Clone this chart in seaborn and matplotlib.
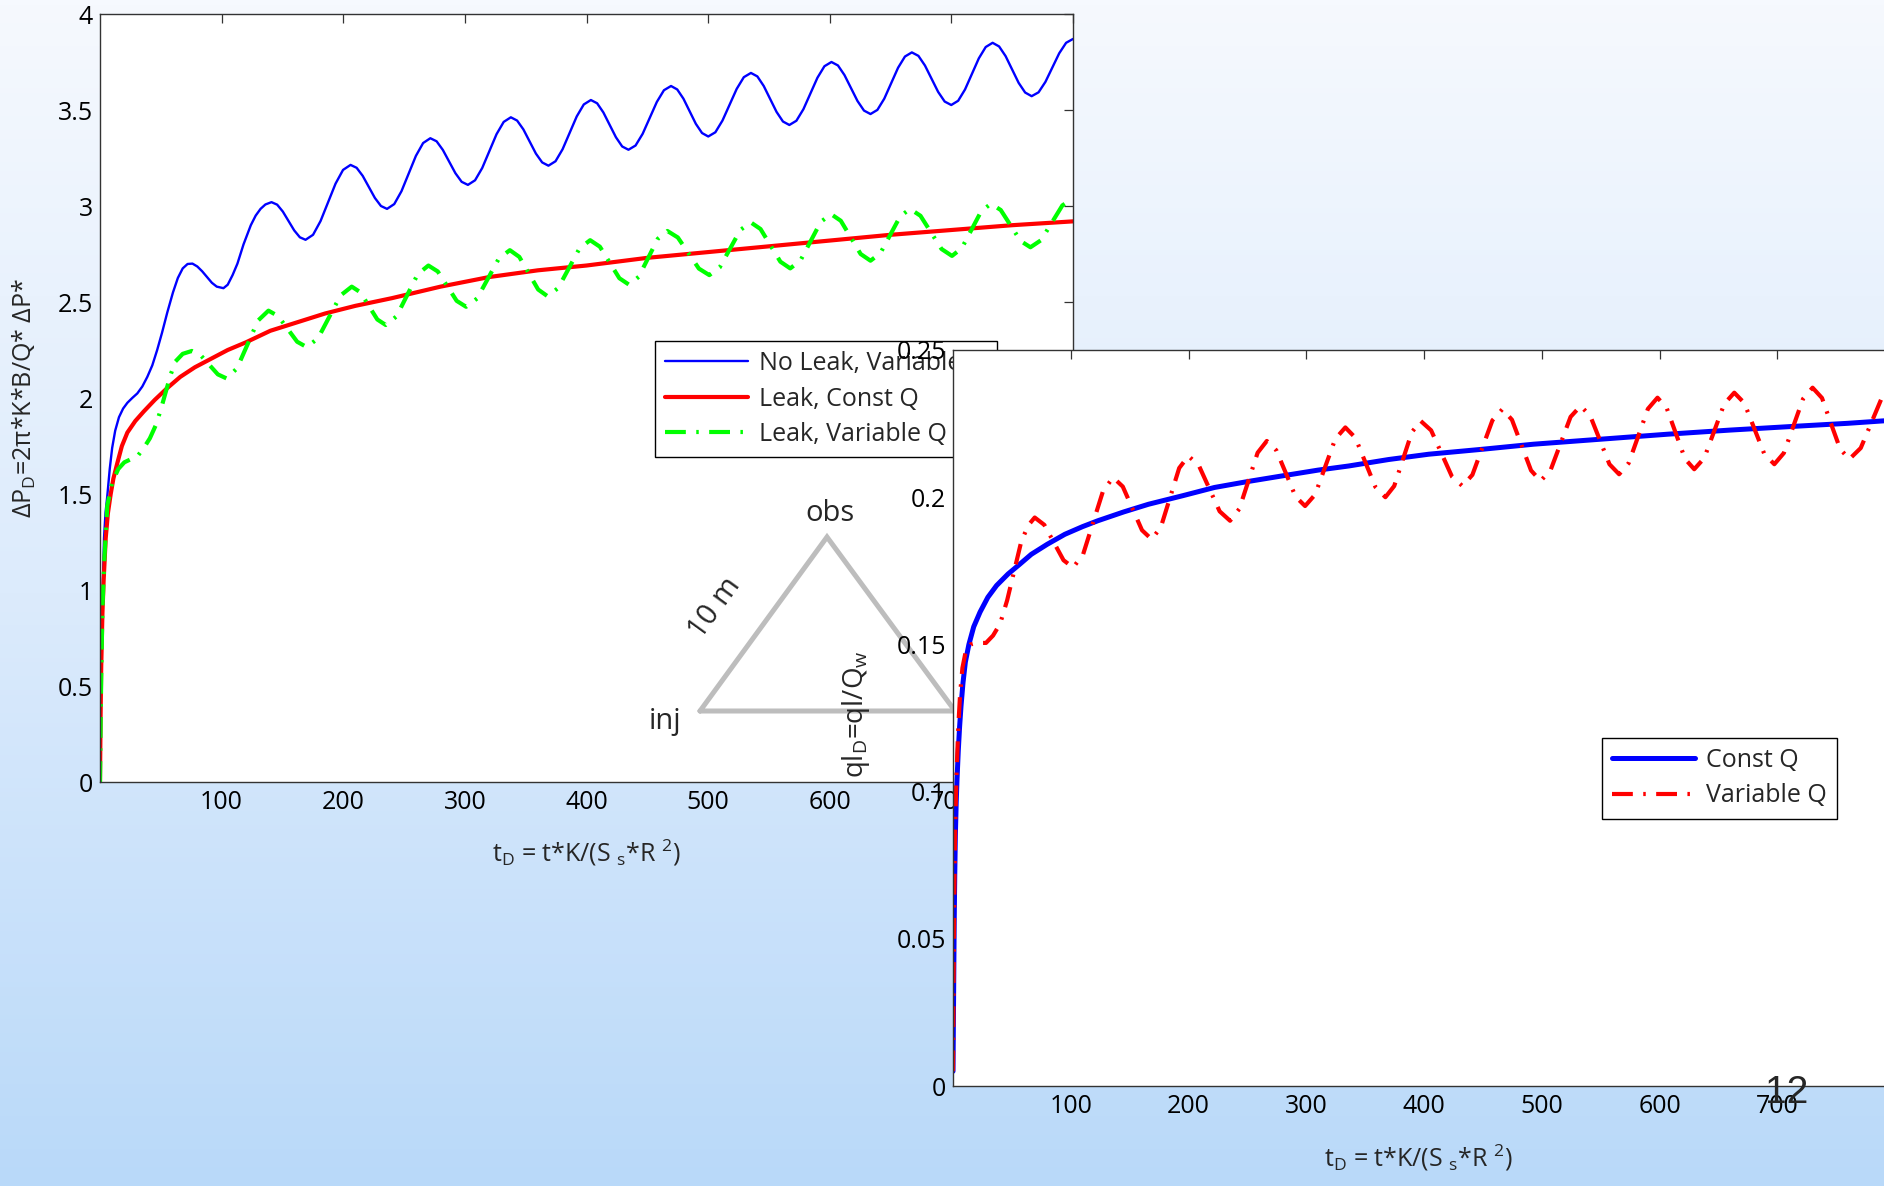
import numpy as np
import pandas as pd
import matplotlib
matplotlib.use("Agg")
import matplotlib.pyplot as plt
import seaborn as sns
from matplotlib.lines import Line2D
from matplotlib.colors import LinearSegmentedColormap

# ---------------- data ----------------
# Left panel: dimensionless pressure vs dimensionless time
no_leak_variable_q = [
    (0, 0), (0.5, 0.35), (1, 0.55), (2, 0.95), (3.3, 1.27), (4.5, 1.40), (6, 1.49), (8, 1.63),
    (10, 1.74), (12.5, 1.83), (15.6, 1.90), (19, 1.945), (22.5, 1.975), (26.5, 2.0), (30.7, 2.024),
    (34.8, 2.06), (38.9, 2.11), (43, 2.17), (47, 2.25), (51, 2.34), (55.3, 2.445), (60, 2.55),
    (64, 2.625), (68, 2.675), (72, 2.698), (76, 2.70), (80, 2.685), (84, 2.66), (88, 2.63), (92, 2.60),
    (96, 2.58), (101.5, 2.572), (105, 2.59), (109, 2.64), (113, 2.70), (118, 2.80), (124, 2.90),
    (128, 2.95), (132, 2.985), (136, 3.008), (141, 3.020),
    (145.67, 3.007), (150.33, 2.971), (155, 2.922), (159.67, 2.873), (164.33, 2.837), (169, 2.824),
    (175.17, 2.850), (181.33, 2.9215), (187.5, 3.019), (193.67, 3.1165), (199.83, 3.188), (206, 3.214),
    (211, 3.199), (216, 3.157), (221, 3.0995), (226, 3.042), (231, 3.000), (236, 2.985),
    (241.93, 3.010), (247.87, 3.077), (253.8, 3.169), (259.73, 3.261), (265.67, 3.328), (271.6, 3.353),
    (276.75, 3.337), (281.9, 3.292), (287.05, 3.2315), (292.2, 3.171), (297.35, 3.126), (302.5, 3.110),
    (308.38, 3.134), (314.27, 3.198), (320.15, 3.286), (326.03, 3.374), (331.92, 3.438), (337.8, 3.462),
    (342.95, 3.445), (348.1, 3.399), (353.25, 3.336), (358.4, 3.273), (363.55, 3.227), (368.7, 3.210),
    (374.52, 3.233), (380.33, 3.2955), (386.15, 3.381), (391.97, 3.4665), (397.78, 3.529), (403.6, 3.552),
    (408.75, 3.535), (413.9, 3.487), (419.05, 3.4225), (424.2, 3.358), (429.35, 3.310), (434.5, 3.293),
    (440.33, 3.315), (446.17, 3.376), (452, 3.459), (457.83, 3.542), (463.67, 3.603), (469.5, 3.625),
    (474.6, 3.607), (479.7, 3.559), (484.8, 3.4935), (489.9, 3.428), (495.0, 3.380), (500.1, 3.362),
    (505.95, 3.384), (511.8, 3.445), (517.65, 3.5275), (523.5, 3.610), (529.35, 3.671), (535.2, 3.693),
    (540.47, 3.675), (545.73, 3.625), (551, 3.5575), (556.27, 3.490), (561.53, 3.440), (566.8, 3.422),
    (572.57, 3.444), (578.33, 3.504), (584.1, 3.586), (589.87, 3.668), (595.63, 3.728), (601.4, 3.750),
    (606.75, 3.732), (612.1, 3.682), (617.45, 3.6145), (622.8, 3.547), (628.15, 3.497), (633.5, 3.479),
    (639.17, 3.5005), (644.83, 3.559), (650.5, 3.6395), (656.17, 3.720), (661.83, 3.7785), (667.5, 3.800),
    (672.9, 3.782), (678.3, 3.7315), (683.7, 3.663), (689.1, 3.5945), (694.5, 3.544), (699.9, 3.526),
    (705.57, 3.548), (711.23, 3.607), (716.9, 3.688), (722.57, 3.769), (728.23, 3.828), (733.9, 3.850),
    (739.25, 3.831), (744.6, 3.7805), (749.95, 3.711), (755.3, 3.6415), (760.65, 3.591), (766, 3.572),
    (771.67, 3.592), (777.33, 3.6465), (783, 3.721), (788.67, 3.7955), (794.33, 3.850), (800, 3.870),
]
leak_const_q = [
    (0, 0), (0.5, 0.35), (1, 0.6), (2, 0.88), (3, 1.05), (4.7, 1.27), (6.5, 1.40), (8.8, 1.50),
    (11, 1.58), (14.2, 1.66), (18, 1.75), (22.5, 1.82), (29, 1.88), (36, 1.93), (45, 1.99), (55, 2.05),
    (66, 2.11), (78, 2.16), (90, 2.20), (105, 2.25), (120, 2.29), (140, 2.35), (160, 2.39), (185, 2.44),
    (210, 2.48), (240, 2.52), (280, 2.58), (320, 2.63), (360, 2.665), (400, 2.69), (450, 2.73),
    (500, 2.76), (550, 2.79), (600, 2.82), (650, 2.85), (700, 2.875), (750, 2.90), (800, 2.92),
]
leak_variable_q = [
    (0, 0), (0.5, 0.3), (1, 0.55), (2, 0.9), (3.5, 1.15), (6, 1.44), (10, 1.56), (15, 1.63), (20, 1.665),
    (25, 1.68), (30, 1.69), (36, 1.74), (41, 1.79), (46, 1.86), (50, 1.94), (54, 2.03), (58, 2.12),
    (62, 2.19), (68, 2.23), (75.5, 2.245), (82.6, 2.224), (89.75, 2.1735), (96.9, 2.123), (104, 2.102),
    (112.6, 2.154), (121.25, 2.2785), (129.9, 2.403), (138.5, 2.455), (146.4, 2.427), (154.25, 2.36),
    (162.1, 2.293), (170, 2.265), (179.25, 2.311), (188.5, 2.4225), (197.75, 2.534), (207, 2.58),
    (214, 2.551), (221, 2.48), (228, 2.409), (235, 2.38), (243.75, 2.425), (252.5, 2.535),
    (261.25, 2.645), (270, 2.69), (277.75, 2.659), (285.5, 2.5825), (293.25, 2.506), (301, 2.475),
    (310, 2.518), (319, 2.6225), (328, 2.727), (337, 2.77), (344.75, 2.735), (352.5, 2.65),
    (360.25, 2.565), (368, 2.53), (376.75, 2.573), (385.5, 2.676), (394.25, 2.779), (403, 2.822),
    (411, 2.788), (419, 2.706), (427, 2.624), (435, 2.59), (442.9, 2.631), (450.75, 2.73),
    (458.6, 2.829), (466.5, 2.87), (475.1, 2.836), (483.75, 2.755), (492.4, 2.674), (501, 2.64),
    (509.5, 2.680), (518, 2.7775), (526.5, 2.875), (535, 2.915), (543.1, 2.880), (551.25, 2.795),
    (559.4, 2.710), (567.5, 2.675), (575.9, 2.716), (584.25, 2.8165), (592.6, 2.917), (601, 2.958),
    (609.1, 2.923), (617.25, 2.8365), (625.4, 2.750), (633.5, 2.715), (641.6, 2.754), (649.75, 2.85),
    (657.9, 2.946), (666, 2.985), (674.6, 2.949), (683.25, 2.8625), (691.9, 2.776), (700.5, 2.74),
    (708.5, 2.780), (716.5, 2.876), (724.5, 2.972), (732.5, 3.012), (740.6, 2.979), (748.75, 2.8985),
    (756.9, 2.818), (765, 2.785), (773.75, 2.822), (782.5, 2.9125), (791.25, 3.003), (800, 3.04),
]

# Right panel: dimensionless leakage rate vs dimensionless time
const_q = [
    (0, 0.005), (0.5, 0.03), (1, 0.055), (1.5, 0.072), (2, 0.085), (2.7, 0.096), (3.4, 0.104),
    (4.5, 0.114), (5.6, 0.122), (6.8, 0.129), (8.5, 0.137), (10.5, 0.144), (13.5, 0.150),
    (17.6, 0.156), (23, 0.161), (29.6, 0.166), (37, 0.170), (46.7, 0.1739), (56, 0.177),
    (66.5, 0.1806), (80, 0.184), (95, 0.1874), (110, 0.190), (123, 0.192), (145, 0.195),
    (166, 0.1976), (195, 0.2005), (222, 0.2033), (250, 0.2053), (279, 0.2072), (310, 0.2092),
    (336, 0.2106), (370, 0.2128), (404, 0.2146), (450, 0.2163), (493, 0.218), (550, 0.2197),
    (607, 0.2214), (660, 0.2228), (720, 0.2242), (760, 0.2251), (800, 0.2262),
]
variable_q = [
    (0, 0.005), (0.5, 0.035), (1, 0.06), (1.5, 0.078), (2, 0.09), (3, 0.106), (4.5, 0.122),
    (6, 0.133), (8, 0.142), (11, 0.148), (15, 0.150), (20, 0.1505), (28, 0.1505), (34, 0.153),
    (40, 0.157), (46, 0.165), (52, 0.175), (58, 0.185), (64, 0.1905), (69.4, 0.1931),
    (77.55, 0.1906), (85.7, 0.1846), (93.85, 0.1786), (102, 0.1761), (110.5, 0.1806), (119, 0.1914),
    (127.5, 0.2022), (136, 0.2067), (144.2, 0.2036), (152.35, 0.1962), (160.5, 0.1888),
    (168.7, 0.1857), (176.5, 0.1898), (184.3, 0.19985), (192.1, 0.2099), (199.9, 0.214),
    (208.75, 0.2108), (217.6, 0.203), (226.45, 0.1952), (235.3, 0.192), (243.1, 0.196),
    (250.9, 0.20555), (258.7, 0.2151), (266.5, 0.2191), (274.6, 0.2159), (282.75, 0.2081),
    (290.9, 0.2002), (299, 0.197), (307.55, 0.2009), (316.1, 0.21035), (324.65, 0.2198),
    (333.2, 0.2237), (341.7, 0.2202), (350.2, 0.21185), (358.7, 0.2035), (367.2, 0.200),
    (374.7, 0.2038), (382.2, 0.21295), (389.7, 0.2221), (397.2, 0.2259), (406.05, 0.2227),
    (414.9, 0.21485), (423.75, 0.207), (432.6, 0.2038), (441.1, 0.2076), (449.6, 0.21685),
    (458.1, 0.2261), (466.6, 0.2299), (474.7, 0.2263), (482.8, 0.2177), (490.9, 0.2091),
    (499, 0.2055), (507.5, 0.2092), (516, 0.21825), (524.5, 0.2273), (533, 0.231), (541.2, 0.2276),
    (549.35, 0.2194), (557.5, 0.2112), (565.7, 0.2078), (573.85, 0.2116), (582, 0.2208),
    (590.15, 0.23), (598.3, 0.2338), (606.1, 0.2303), (613.9, 0.22165), (621.7, 0.213),
    (629.5, 0.2095), (638, 0.2133), (646.5, 0.2225), (655, 0.2317), (663.5, 0.2355), (672, 0.2320),
    (680.5, 0.22335), (689, 0.2147), (697.5, 0.2112), (705.6, 0.215), (713.75, 0.2242),
    (721.9, 0.2334), (730, 0.2372), (738, 0.2337), (745.6, 0.22505), (753.4, 0.2164),
    (761.2, 0.2129), (770.9, 0.2167), (780.6, 0.22595), (790.3, 0.2352), (800, 0.239),
]

left_series_labels = ["No Leak, Variable Q", "Leak, Const Q", "Leak, Variable Q"]
right_series_labels = ["Const Q", "Variable Q"]
left_x_ticks = [100, 200, 300, 400, 500, 600, 700, 800]
right_x_ticks = [100, 200, 300, 400, 500, 600, 700]
left_y_ticks = [0, 0.5, 1, 1.5, 2, 2.5, 3, 3.5, 4]
left_y_ticklabels = ["0", "0.5", "1", "1.5", "2", "2.5", "3", "3.5", "4"]
right_y_ticks = [0, 0.05, 0.1, 0.15, 0.2, 0.25]
right_y_ticklabels = ["0", "0.05", "0.1", "0.15", "0.2", "0.25"]
left_ylabel = "ΔP$_{\\rm D}$=2π*K*B/Q* ΔP*"
right_ylabel = "ql$_{\\rm D}$=ql/Q$_{\\rm w}$"
xlabel = "t$_{\\rm D}$ = t*K/(S $_{\\rm s}$*R $^{2}$)"
diagram_labels = ["obs", "inj", "10 m"]
page_number = "12"

# ---------------- styling ----------------
sns.set_theme(style="white")
plt.rcParams['font.family'] = ['Open Sans', 'DejaVu Sans']
plt.rcParams['mathtext.fontset'] = 'custom'
plt.rcParams['mathtext.rm'] = 'Open Sans'
plt.rcParams['mathtext.it'] = 'Open Sans'
plt.rcParams['mathtext.bf'] = 'Open Sans'

W, H = 1884, 1186
fig = plt.figure(figsize=(W / 100, H / 100), dpi=100)

def fx(px):
    return px / W

def fy(py):
    return 1 - py / H

# background gradient
bg = fig.add_axes([0, 0, 1, 1], zorder=-10)
cmap = LinearSegmentedColormap.from_list("bg", ["#f6f9fe", "#dcebfc", "#b9d9f9"])
grad = np.linspace(0, 1, 256).reshape(-1, 1)
bg.imshow(grad, aspect="auto", cmap=cmap, extent=[0, 1, 0, 1], origin="upper")
bg.set_axis_off()

FS = 18
LFS = 18
tick_kw = dict(direction="in", length=6.5, width=0.9, color="#333333",
               top=True, right=True, labelsize=FS, labelcolor="black")

def style_axes(ax):
    for s in ax.spines.values():
        s.set_color("#333333")
        s.set_linewidth(1.0)
        s.set_visible(True)
    ax.tick_params(axis="both", which="both", **tick_kw)
    ax.tick_params(axis="x", pad=6)
    ax.tick_params(axis="y", pad=5)
    ax.set_facecolor("white")
    ax.patch.set_alpha(1)

leg_kw = dict(fontsize=LFS, frameon=True, fancybox=False, framealpha=1, edgecolor="black",
              handlelength=3.3, borderpad=0.4, labelspacing=0.42, handletextpad=0.45,
              borderaxespad=0)
DASHDOT = (0, (5, 2.5, 0.6, 2.5))

# ---------------- left panel ----------------
axL = fig.add_axes([fx(100), fy(782), fx(1073) - fx(100), fy(14) - fy(782)], zorder=1)
dfs = [pd.DataFrame(s, columns=["t", "v"]) for s in (no_leak_variable_q, leak_const_q, leak_variable_q)]
sns.lineplot(data=dfs[0], x="t", y="v", ax=axL, color=(0, 0, 1), lw=1.7,
             estimator=None, sort=False, label=left_series_labels[0], solid_joinstyle="round")
sns.lineplot(data=dfs[1], x="t", y="v", ax=axL, color=(1, 0, 0), lw=3.0,
             estimator=None, sort=False, label=left_series_labels[1])
sns.lineplot(data=dfs[2], x="t", y="v", ax=axL, color=(0, 1, 0), lw=3.0,
             estimator=None, sort=False, label=left_series_labels[2], linestyle=DASHDOT)
axL.set_xlim(0, 800)
axL.set_ylim(0, 4)
axL.set_xticks(left_x_ticks)
axL.set_yticks(left_y_ticks)
axL.set_yticklabels(left_y_ticklabels)
style_axes(axL)
axL.set_xlabel(xlabel, fontsize=LFS)
axL.set_ylabel(left_ylabel, fontsize=LFS)
axL.xaxis.set_label_coords(0.4995, -0.072)
axL.yaxis.set_label_coords(-0.064, 0.50)
legL = axL.legend(loc="upper left", bbox_to_anchor=(fx(655), fy(341)),
                  bbox_transform=fig.transFigure, **leg_kw)
legL.get_frame().set_linewidth(1.0)

# ---------------- right panel ----------------
axR = fig.add_axes([fx(953), fy(1086), fx(1895) - fx(953), fy(350) - fy(1086)], zorder=3)
dfr = [pd.DataFrame(s, columns=["t", "v"]) for s in (const_q, variable_q)]
sns.lineplot(data=dfr[0], x="t", y="v", ax=axR, color=(0, 0, 1), lw=3.6,
             estimator=None, sort=False, label=right_series_labels[0])
sns.lineplot(data=dfr[1], x="t", y="v", ax=axR, color=(1, 0, 0), lw=3.0,
             estimator=None, sort=False, label=right_series_labels[1], linestyle=DASHDOT)
axR.set_xlim(0, 800)
axR.set_ylim(0, 0.25)
axR.set_xticks(right_x_ticks)
axR.set_yticks(right_y_ticks)
axR.set_yticklabels(right_y_ticklabels)
style_axes(axR)
axR.set_xlabel(xlabel, fontsize=LFS)
axR.set_ylabel(right_ylabel, fontsize=LFS + 2)
axR.xaxis.set_label_coords(0.494, -0.077)
axR.yaxis.set_label_coords(-0.086, 0.505)
legR = axR.legend(loc="upper left", bbox_to_anchor=(fx(1602), fy(738)),
                  bbox_transform=fig.transFigure, **leg_kw)
legR.get_frame().set_linewidth(1.0)

# ---------------- well diagram (triangle) ----------------
tri_px = [(700, 711), (827, 537), (955, 711), (700, 711)]
fig.add_artist(Line2D([fx(p[0]) for p in tri_px], [fy(p[1]) for p in tri_px],
                      transform=fig.transFigure, color="#bdbdbd", lw=3.6,
                      solid_joinstyle="miter", zorder=2))
fig.text(fx(830), fy(513), diagram_labels[0], ha="center", va="center", fontsize=21, zorder=2)
fig.text(fx(665), fy(721), diagram_labels[1], ha="center", va="center", fontsize=21, zorder=2)
fig.text(fx(715), fy(608), diagram_labels[2], ha="center", va="center", fontsize=21,
         rotation=54, zorder=2)

fig.text(fx(1787), fy(1093), page_number, ha="center", va="center", fontsize=28,
         family=["Liberation Sans", "DejaVu Sans"], zorder=10)

fig.savefig("out.png", dpi=100)
